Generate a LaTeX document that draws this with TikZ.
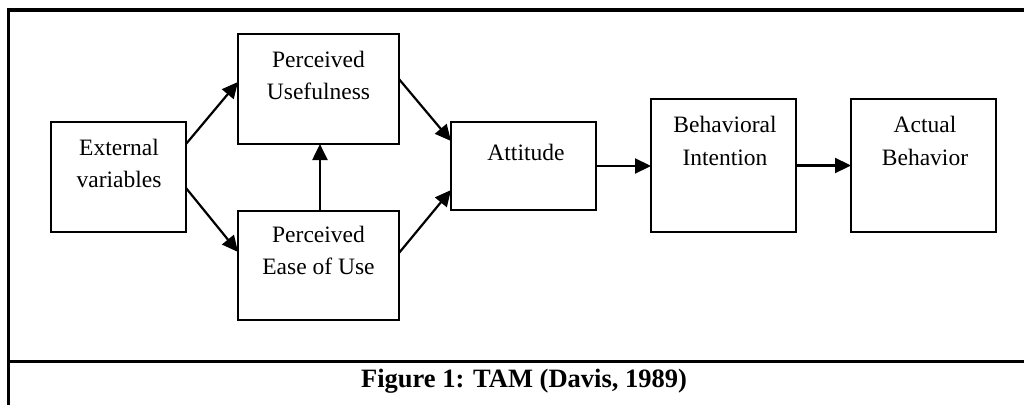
\documentclass[tikz,border=0pt]{standalone}
\usepackage{fontspec}
\setmainfont{Liberation Serif}
\usetikzlibrary{arrows.meta,calc}
\newcommand{\twolines}[1]{\begin{tabular}[t]{@{}c@{}}#1\end{tabular}}
\begin{document}
\begin{tikzpicture}[x=1pt,y=-1pt,
  box/.style={draw, line width=2.7pt, inner sep=0pt, outer sep=0pt},
  lbl/.style={anchor=base, inner sep=0pt, font=\fontsize{23.5}{32.3}\selectfont},
  arr/.style={line width=2.2pt, -{Triangle[length=16pt,width=15pt]}},
  frame/.style={line width=3.4pt}]
\useasboundingbox (0,0) rectangle (1024,404);
% outer frame
\draw[frame] (8.3,410) -- (8.3,10) -- (1030,10);
\draw[frame] (8.3,361.7) -- (1030,361.7);
% boxes
\node[box, minimum width=135pt, minimum height=110pt] (ev) at (118.5,177) {};
\node[box, minimum width=161pt, minimum height=110pt] (pu) at (318.5,89) {};
\node[box, minimum width=161pt, minimum height=109pt] (pe) at (318.5,265.5) {};
\node[box, minimum width=145pt, minimum height=88pt] (at) at (523.5,166) {};
\node[box, minimum width=145pt, minimum height=133pt] (bi) at (723.5,165.5) {};
\node[box, minimum width=145pt, minimum height=133pt] (ab) at (923.5,165.5) {};
% labels
\node[lbl] (ev-t) at (119,155) {\twolines{External\\variables}};
\node[lbl] (pu-t) at (318.5,67) {\twolines{Perceived\\Usefulness}};
\node[lbl] (pe-t) at (318.5,242) {\twolines{Perceived\\Ease of Use}};
\node[lbl] (at-t) at (526,160) {Attitude};
\node[lbl] (bi-t) at (725,132.7) {\twolines{Behavioral\\Intention}};
\node[lbl] (ab-t) at (925,132.7) {\twolines{Actual\\Behavior}};
% caption
\node[anchor=base, inner sep=0pt, font=\fontsize{26.5}{30}\selectfont\bfseries] (cap) at (524,387.3) {Figure 1: TAM (Davis, 1989)};
% arrows
\draw[arr] ($(ev.north east)!0.2!(ev.south east)$) -- ($(pu.north west)!0.436!(pu.south west)$);
\draw[arr] ($(ev.north east)!0.6!(ev.south east)$) -- ($(pe.north west)!0.376!(pe.south west)$);
\draw[arr] ($(pe.north west)!0.509!(pe.north east)$) -- ($(pu.south west)!0.509!(pu.south east)$);
\draw[arr] ($(pu.north east)!0.41!(pu.south east)$) -- ($(at.north west)!0.216!(at.south west)$);
\draw[arr] ($(pe.north east)!0.385!(pe.south east)$) -- ($(at.north west)!0.773!(at.south west)$);
\draw[arr] (at.east) -- (at.east -| bi.west);
\draw[arr] (bi.east) -- (bi.east -| ab.west);
\end{tikzpicture}
\end{document}
